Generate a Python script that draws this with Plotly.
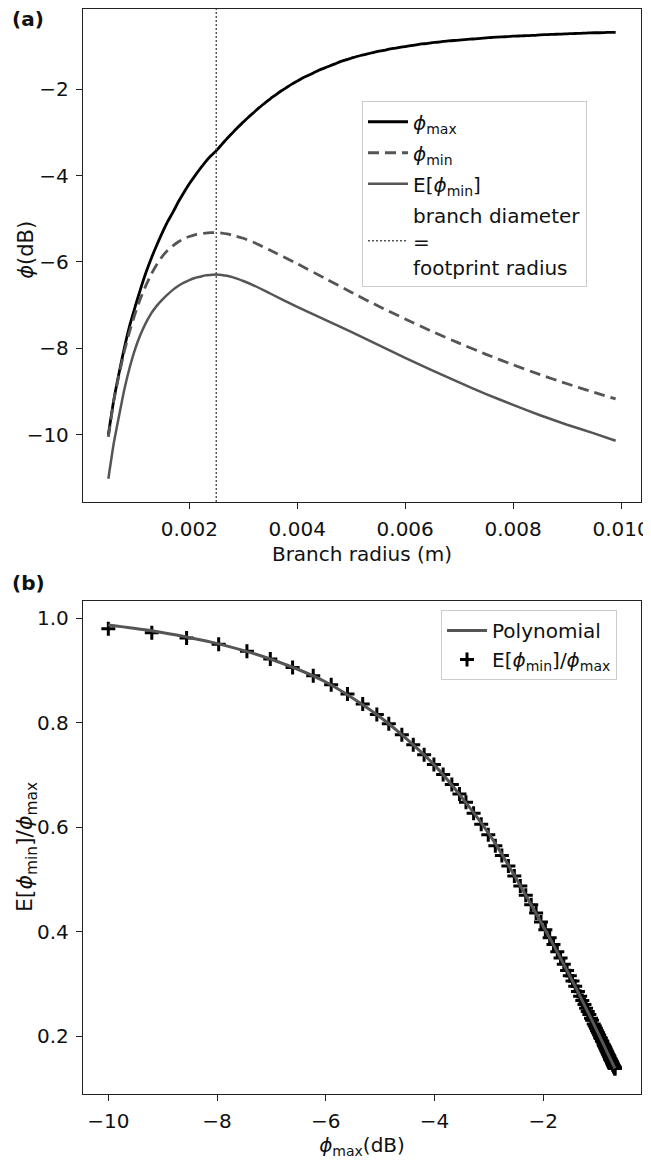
import plotly.graph_objects as go

# ---------------- data ----------------
# (a) branch radius grid (m)
radius = [0.0005, 0.0006, 0.0007, 0.0008, 0.0009, 0.0010, 0.0011, 0.0012, 0.0013, 0.0014,
          0.0015, 0.0016, 0.0017, 0.0018, 0.0019, 0.0020, 0.0021, 0.0022, 0.0023, 0.0024,
          0.0025, 0.0026, 0.0027, 0.0028, 0.0029, 0.0030, 0.0031, 0.0032, 0.0033, 0.0034,
          0.0035, 0.0036, 0.0037, 0.0038, 0.0039, 0.0040, 0.0041, 0.0042, 0.0043, 0.0044,
          0.0045, 0.0046, 0.0047, 0.0048, 0.0049, 0.0050, 0.0051, 0.0052, 0.0053, 0.0054,
          0.0055, 0.0056, 0.0057, 0.0058, 0.0059, 0.0060, 0.0061, 0.0062, 0.0063, 0.0064,
          0.0065, 0.0066, 0.0067, 0.0068, 0.0069, 0.0070, 0.0071, 0.0072, 0.0073, 0.0074,
          0.0075, 0.0076, 0.0077, 0.0078, 0.0079, 0.0080, 0.0081, 0.0082, 0.0083, 0.0084,
          0.0085, 0.0086, 0.0087, 0.0088, 0.0089, 0.0090, 0.0091, 0.0092, 0.0093, 0.0094,
          0.0095, 0.0096, 0.0097, 0.0098, 0.0099]

phi_max = [-10.00, -9.20, -8.56, -7.97, -7.45, -7.02, -6.61, -6.23, -5.90, -5.60,
           -5.32, -5.06, -4.84, -4.60, -4.39, -4.19, -4.01, -3.84, -3.68, -3.54,
           -3.42, -3.28, -3.14, -3.01, -2.88, -2.76, -2.64, -2.53, -2.42, -2.32,
           -2.22, -2.13, -2.04, -1.96, -1.88, -1.81, -1.74, -1.68, -1.62, -1.56,
           -1.51, -1.46, -1.41, -1.36, -1.32, -1.28, -1.24, -1.21, -1.18, -1.15,
           -1.12, -1.10, -1.07, -1.05, -1.03, -1.01, -0.99, -0.97, -0.95, -0.94,
           -0.92, -0.91, -0.89, -0.88, -0.87, -0.86, -0.85, -0.84, -0.83, -0.82,
           -0.81, -0.80, -0.79, -0.785, -0.78, -0.77, -0.765, -0.76, -0.755, -0.75,
           -0.74, -0.735, -0.73, -0.725, -0.72, -0.715, -0.71, -0.705, -0.70, -0.695,
           -0.69, -0.69, -0.685, -0.68, -0.68]

radius_min = [0.0005, 0.0006, 0.0007, 0.0008, 0.0009, 0.0010, 0.0011, 0.0012, 0.0013, 0.0014,
              0.0015, 0.0016, 0.0017, 0.0018, 0.0019, 0.0020, 0.0021, 0.0022, 0.0023, 0.0024,
              0.0025, 0.0026, 0.0027, 0.0028, 0.0030, 0.0032, 0.0035, 0.0040, 0.0045, 0.0050,
              0.0055, 0.0060, 0.0065, 0.0070, 0.0075, 0.0080, 0.0085, 0.0090, 0.0095, 0.0099]

phi_min = [-10.05, -9.22, -8.60, -8.05, -7.58, -7.18, -6.83, -6.53, -6.27, -6.05,
           -5.87, -5.73, -5.62, -5.53, -5.46, -5.41, -5.37, -5.35, -5.33, -5.32,
           -5.32, -5.33, -5.35, -5.38, -5.45, -5.55, -5.73, -6.04, -6.37, -6.70,
           -7.02, -7.32, -7.61, -7.88, -8.14, -8.38, -8.61, -8.82, -9.02, -9.17]

e_phi_min = [-11.02, -10.20, -9.55, -8.93, -8.42, -8.00, -7.67, -7.40, -7.18, -7.01,
             -6.87, -6.75, -6.64, -6.55, -6.48, -6.42, -6.37, -6.34, -6.31, -6.30,
             -6.29, -6.30, -6.32, -6.35, -6.44, -6.545, -6.73, -7.04, -7.33, -7.62,
             -7.92, -8.22, -8.51, -8.79, -9.06, -9.31, -9.55, -9.77, -9.97, -10.14]

footprint_radius = 0.005  # branch diameter = footprint radius -> radius 0.0025

# (b) ratio E[phi_min]/phi_max at each phi_max sample
ratio = [0.980, 0.972, 0.962, 0.950, 0.937, 0.922, 0.906, 0.890, 0.873, 0.855,
         0.836, 0.816, 0.798, 0.777, 0.758, 0.739, 0.720, 0.701, 0.682, 0.664,
         0.648, 0.627, 0.606, 0.586, 0.565, 0.546, 0.526, 0.507, 0.488, 0.470,
         0.452, 0.436, 0.419, 0.404, 0.389, 0.376, 0.362, 0.350, 0.338, 0.326,
         0.316, 0.306, 0.296, 0.286, 0.277, 0.269, 0.261, 0.254, 0.248, 0.242,
         0.235, 0.231, 0.224, 0.220, 0.216, 0.211, 0.207, 0.203, 0.198, 0.196,
         0.192, 0.190, 0.185, 0.183, 0.181, 0.179, 0.176, 0.174, 0.172, 0.170,
         0.167, 0.165, 0.163, 0.162, 0.161, 0.158, 0.157, 0.156, 0.155, 0.154,
         0.152, 0.151, 0.150, 0.149, 0.147, 0.146, 0.145, 0.144, 0.143, 0.142,
         0.141, 0.141, 0.140, 0.139, 0.139]

poly_x = [-10.0, -9.2, -8.56, -7.97, -7.02, -6.0, -5.0, -4.0, -3.0, -2.0, -1.5, -1.0, -0.68]
poly_y = [0.987, 0.976, 0.964, 0.951, 0.922, 0.878, 0.811, 0.719, 0.588, 0.411, 0.314, 0.209, 0.139]

# ---------------- figure ----------------
# The page body keeps its default 8 px margin, so the figure is sized 8 px
# smaller than the 651x1160 window and every position accounts for that offset.
FONT = "DejaVu Sans"
FS = 20
GRAY = "#555555"
PHI = "<i>\u03d5</i>"

fig = go.Figure()

fig.add_trace(go.Scatter(x=radius, y=phi_max, mode="lines", name=PHI + "<sub>max</sub>",
                         legendgroup="a1",
                         line=dict(color="black", width=2.8, shape="spline", smoothing=0.6),
                         xaxis="x", yaxis="y", legend="legend"))
fig.add_trace(go.Scatter(x=radius_min, y=phi_min, mode="lines", name=PHI + "<sub>min</sub>",
                         legendgroup="a2",
                         line=dict(color=GRAY, width=2.8, dash="11px,6px", shape="spline", smoothing=0.5),
                         xaxis="x", yaxis="y", legend="legend"))
fig.add_trace(go.Scatter(x=radius_min, y=e_phi_min, mode="lines", name="E[" + PHI + "<sub>min</sub>]",
                         legendgroup="a3",
                         line=dict(color=GRAY, width=2.5, shape="spline", smoothing=0.5),
                         xaxis="x", yaxis="y", legend="legend"))
fig.add_trace(go.Scatter(x=[None], y=[None], mode="lines",
                         name="branch diameter<br>=<br>footprint radius",
                         legendgroup="a4",
                         line=dict(color=GRAY, width=1.5, dash="2px,2px"),
                         xaxis="x", yaxis="y", legend="legend"))
fig.add_shape(type="line", xref="x", yref="y domain", x0=footprint_radius / 2, x1=footprint_radius / 2,
              y0=0, y1=1, line=dict(color=GRAY, width=1.5, dash="2px,2px"))

fig.add_trace(go.Scatter(x=phi_max, y=ratio, mode="markers",
                         name="E[" + PHI + "<sub>min</sub>]/" + PHI + "<sub>max</sub>",
                         legendgroup="b2",
                         marker=dict(symbol="cross-thin", size=10, color="black",
                                     line=dict(color="black", width=3)),
                         xaxis="x2", yaxis="y2", legend="legend2"))
fig.add_trace(go.Scatter(x=poly_x, y=poly_y, mode="lines", name="Polynomial",
                         legendgroup="b1",
                         line=dict(color=GRAY, width=3, shape="spline", smoothing=0.8),
                         xaxis="x2", yaxis="y2", legend="legend2"))

axis_common = dict(showline=True, linecolor="#222", linewidth=1.3, mirror=True,
                   ticks="outside", ticklen=6, tickwidth=1.3, tickcolor="#222",
                   ticklabelstandoff=3,
                   showgrid=False, zeroline=False,
                   tickfont=dict(family=FONT, size=FS, color="#111"))

legend_common = dict(xanchor="left", yanchor="top", itemwidth=40, tracegroupgap=2,
                     bgcolor="rgba(255,255,255,0.85)", bordercolor="#cccccc", borderwidth=1,
                     font=dict(family=FONT, size=FS, color="#111"))

fig.update_layout(
    width=643, height=1152,
    margin=dict(l=75, r=10, t=1, b=66),
    paper_bgcolor="white", plot_bgcolor="white",
    font=dict(family=FONT, size=FS, color="#111"),
    xaxis=dict(domain=[0, 1], anchor="y", range=[0.00003, 0.01037],
               tickvals=[0.002, 0.004, 0.006, 0.008, 0.010], tickformat=".3f",
               title=dict(text="Branch radius (m)", font=dict(family=FONT, size=FS), standoff=6),
               **axis_common),
    yaxis=dict(domain=[0.5456, 1], anchor="x", range=[-11.56, -0.14],
               tickvals=[-10, -8, -6, -4, -2],
               **axis_common),
    xaxis2=dict(domain=[0, 1], anchor="y2", range=[-10.466, -0.2],
                tickvals=[-10, -8, -6, -4, -2],
                title=dict(text=PHI + "<sub>max</sub>(dB)", font=dict(family=FONT, size=FS), standoff=3),
                **axis_common),
    yaxis2=dict(domain=[0, 0.4544], anchor="x2", range=[0.09, 1.033],
                tickvals=[0.2, 0.4, 0.6, 0.8, 1.0], tickformat=".1f",
                **axis_common),
    legend=dict(x=0.5, y=0.915, **legend_common),
    legend2=dict(x=0.6416, y=0.4461, traceorder="reversed", **legend_common),
    annotations=[
        dict(text="<b>(a)</b>", xref="paper", yref="paper", x=-0.1308, y=0.9908,
             xanchor="left", yanchor="middle", showarrow=False, font=dict(family=FONT, size=FS)),
        dict(text="<b>(b)</b>", xref="paper", yref="paper", x=-0.1308, y=0.471,
             xanchor="left", yanchor="middle", showarrow=False, font=dict(family=FONT, size=FS)),
        dict(text=PHI + "(dB)", xref="paper", yref="paper", x=-0.1022, y=0.778,
             xanchor="center", yanchor="middle", textangle=-90, showarrow=False,
             font=dict(family=FONT, size=FS + 1)),
        dict(text="E[" + PHI + "<sub>min</sub>]/" + PHI + "<sub>max</sub>",
             xref="paper", yref="paper", x=-0.1022, y=0.2276,
             xanchor="center", yanchor="middle", textangle=-90, showarrow=False,
             font=dict(family=FONT, size=FS + 2)),
    ],
)

fig.write_html("out.html")
